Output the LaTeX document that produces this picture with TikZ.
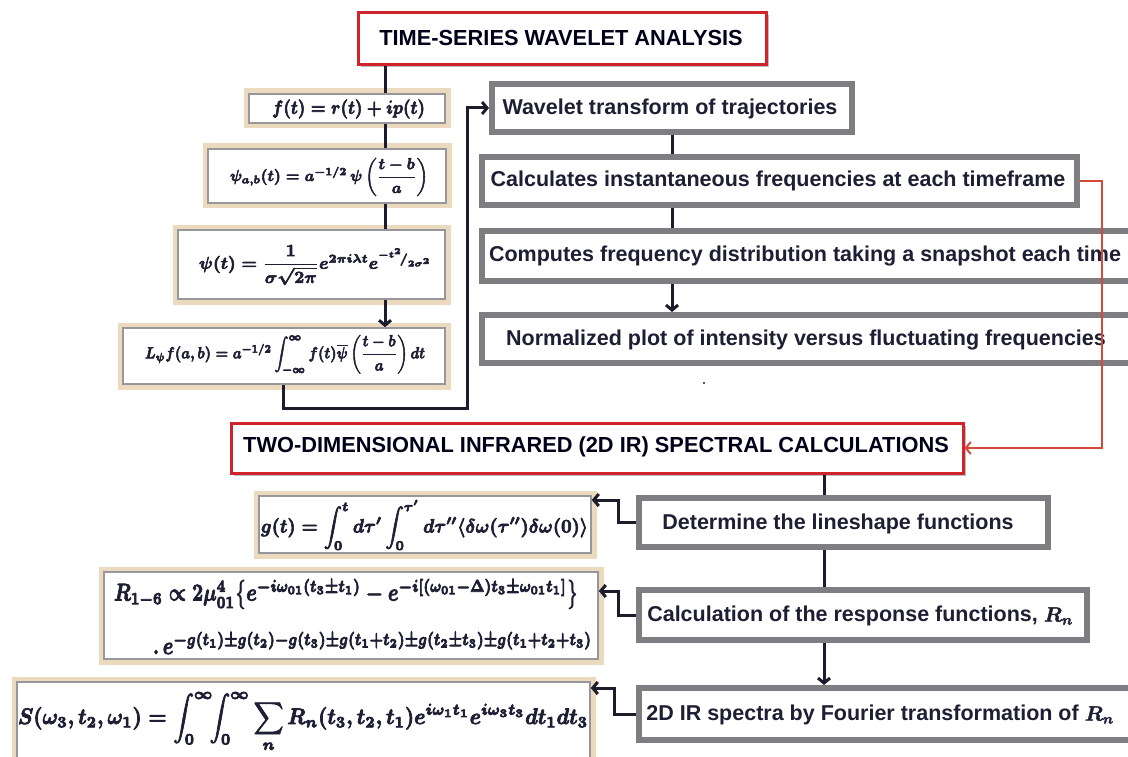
\documentclass[tikz,border=0pt]{standalone}
\usepackage{amsmath}
\usepackage{bm}
\usepackage[no-math]{fontspec}
\setmainfont{Liberation Sans}
\usetikzlibrary{arrows.meta,shadows}
\definecolor{linec}{RGB}{28,28,44}
\definecolor{grayb}{RGB}{126,126,130}
\definecolor{eqb}{RGB}{150,150,155}
\definecolor{halo}{RGB}{236,218,190}
\definecolor{redb}{RGB}{208,36,44}
\definecolor{redl}{RGB}{214,72,56}
\definecolor{txtc}{RGB}{30,30,52}
\newcommand{\bmath}[1]{\mbox{\boldmath$#1$}}
\newcommand{\heavy}[1]{\special{pdf:literal direct 2 Tr 0.35 w}#1\special{pdf:literal direct 0 Tr}}
\newcommand{\eqfit}[3]{\resizebox*{#1}{#2}{\heavy{\bmath{#3}}}}
\tikzset{
  conn/.style={draw=linec, line width=3pt},
  arr/.style={conn, -{Straight Barb[length=5pt,width=12pt]}},
  redarr/.style={draw=redl, line width=2pt, -{Straight Barb[length=5pt,width=12pt]}},
  shad/.style={drop shadow={shadow xshift=2.5pt, shadow yshift=-2.5pt, opacity=0.35, fill=black!70}},
  graybox/.style={draw=grayb, line width=6pt, fill=white, shad, inner sep=0pt},
  eqbox/.style={draw=eqb, line width=1.6pt, fill=white, inner sep=0pt,
                preaction={draw=halo, line width=11pt}},
  titlebox/.style={draw=redb, line width=3pt, fill=white, shad, inner sep=0pt},
  btxt/.style={font=\fontsize{21.5}{24}\selectfont\bfseries, text=txtc, inner sep=0pt},
  ttxt/.style={font=\fontsize{21.8}{24}\selectfont\bfseries, text=black!90!blue, inner sep=0pt},
  mtxt/.style={text=txtc, inner sep=0pt},
}
\begin{document}
\begin{tikzpicture}[x=1pt,y=-1pt]
\useasboundingbox (0,0) rectangle (1128,757);
\clip (0,0) rectangle (1128,757);
\fill[white] (0,0) rectangle (1128,757);

% ---------- titles ----------
\node[titlebox, minimum width=408pt, minimum height=52pt] (title1) at (562,39) {};
\node[ttxt] (title1t) at (561,38) {TIME-SERIES WAVELET ANALYSIS};
\node[titlebox, minimum width=732pt, minimum height=50pt] (title2) at (597,448) {};
\node[ttxt] (title2t) at (596,447) {TWO-DIMENSIONAL INFRARED (2D IR) SPECTRAL CALCULATIONS};

% ---------- left equation column ----------
\node[eqbox, minimum width=196pt, minimum height=29pt] (fbox) at (347,108.5) {};
\node[mtxt] (fboxt) at (348.5,109) {\eqfit{153pt}{19pt}{f(t)=r(t)+ip(t)}};
\node[eqbox, minimum width=238pt, minimum height=54pt] (psiab) at (327,176) {};
\node[mtxt] (psiabt) at (329,177) {\eqfit{198pt}{38pt}{\psi_{a,b}(t)=a^{-1/2}\,\psi\left(\dfrac{t-b}{a}\right)}};
\node[eqbox, minimum width=267pt, minimum height=69pt] (psi) at (311.5,264.5) {};
\node[mtxt] (psit) at (315.5,265) {\eqfit{233pt}{40pt}{\psi(t)=\dfrac{1}{\sigma\sqrt{2\pi}}e^{2\pi i\lambda t}e^{{}^{-t^2}\!/_{2\sigma^2}}}};
\node[eqbox, minimum width=322pt, minimum height=56pt] (Lbox) at (284,356) {};
\node[mtxt] (Lboxt) at (285,355) {\eqfit{280pt}{40pt}{L_\psi f(a,b)=a^{-1/2}\displaystyle\int_{-\infty}^{\infty}f(t)\overline{\psi}\left(\frac{t-b}{a}\right)dt}};

% ---------- wavelet column ----------
\node[graybox, minimum width=360pt, minimum height=48pt] (wave) at (672,108) {};
\node[btxt] (wavet) at (670,109) {Wavelet transform of trajectories};
\node[graybox, minimum width=595pt, minimum height=48pt] (calc) at (779.5,181) {};
\node[btxt] (calct) at (778,181) {Calculates instantaneous frequencies at each timeframe};
\node[graybox, minimum width=658pt, minimum height=50pt] (comp) at (811,256) {};
\node[btxt] (compt) at (805,256) {Computes frequency distribution taking a snapshot each time};
\node[graybox, minimum width=658pt, minimum height=48pt] (norm) at (811,339) {};
\node[btxt] (normt) at (806,340) {Normalized plot of intensity versus fluctuating frequencies};
\fill[linec] (704,383) circle (1.2);

% ---------- 2D IR column ----------
\node[graybox, minimum width=409pt, minimum height=49pt] (det) at (843.5,522.5) {};
\node[btxt] (dett) at (838,524) {Determine the lineshape functions};
\node[graybox, minimum width=448pt, minimum height=50pt] (resp) at (863,615) {};
\node[btxt] (respt) at (860,616) {Calculation of the response functions, \heavy{\bmath{R_n}}};
\node[graybox, minimum width=501pt, minimum height=52pt] (ir) at (889.5,714) {};
\node[btxt] (irt) at (880,715) {2D IR spectra by Fourier transformation of \heavy{\bmath{R_n}}};

% ---------- lower equations ----------
\node[eqbox, minimum width=332pt, minimum height=57pt] (gbox) at (425,524.5) {};
\node[mtxt] (gboxt) at (424.5,525) {\eqfit{327pt}{50pt}{g(t)=\displaystyle\int_0^t d\tau'\int_0^{\tau'}d\tau''\langle\delta\omega(\tau'')\delta\omega(0)\rangle}};
\node[eqbox, minimum width=494pt, minimum height=87pt] (Rbox) at (351,615.5) {};
\node[mtxt] (Rboxa) at (346,594) {\eqfit{464pt}{30pt}{R_{1-6}\propto 2\mu_{01}^4\bigl\{e^{-i\omega_{01}(t_3\pm t_1)}-e^{-i[(\omega_{01}-\Delta)t_3\pm\omega_{01}t_1]}\bigr\}}};
\node[mtxt] (Rboxb) at (372.5,643) {\eqfit{439pt}{22pt}{.\,e^{-g(t_1)\pm g(t_2)-g(t_3)\pm g(t_1+t_2)\pm g(t_2\pm t_3)\pm g(t_1+t_2+t_3)}}};
\node[eqbox, minimum width=573pt, minimum height=98pt] (Sbox) at (303.5,731) {};
\node[mtxt] (Sboxt) at (303,722) {\eqfit{570pt}{60pt}{S(\omega_3,t_2,\omega_1)=\displaystyle\int_0^\infty\!\!\int_0^\infty\sum_n R_n(t_3,t_2,t_1)e^{i\omega_1t_1}e^{i\omega_3t_3}dt_1dt_3}};

% ---------- connectors ----------
\coordinate (vx) at (385,0);
\draw[conn] (title1.south -| vx) -- (fbox.north -| vx);
\draw[conn] (fbox.south -| vx) -- (psiab.north -| vx);
\draw[conn] (psiab.south -| vx) -- (psi.north -| vx);
\draw[arr] (psi.south -| vx) -- (Lbox.north -| vx);

\coordinate (c1) at (283,408);
\coordinate (c2) at (467,408);
\draw[arr] (Lbox.south -| c1) -- (c1) -- (c2) -- (c2 |- wave.west) -- (wave.west);

\coordinate (wx) at (672,0);
\draw[conn] (wave.south -| wx) -- (calc.north -| wx);
\draw[conn] (calc.south -| wx) -- (comp.north -| wx);
\draw[arr] (comp.south -| wx) -- (norm.north -| wx);

\coordinate (r1) at (1102,0);
\draw[redarr] (calc.east) -- (calc.east -| r1) -- (r1 |- title2.east) -- (title2.east);

\coordinate (sx) at (824,0);
\draw[conn] (title2.south -| sx) -- (det.north -| sx);
\draw[conn] (det.south -| sx) -- (resp.north -| sx);
\draw[arr] (resp.south -| sx) -- (ir.north -| sx);

\coordinate (e1) at (618,500);
\coordinate (e2) at (618,591);
\coordinate (e3) at (614,688);
\draw[arr] (det.west) -| (e1) -- (e1 -| gbox.east);
\draw[arr] (resp.west) -| (e2) -- (e2 -| Rbox.east);
\draw[arr] (ir.west) -| (e3) -- (e3 -| Sbox.east);
\end{tikzpicture}
\end{document}
